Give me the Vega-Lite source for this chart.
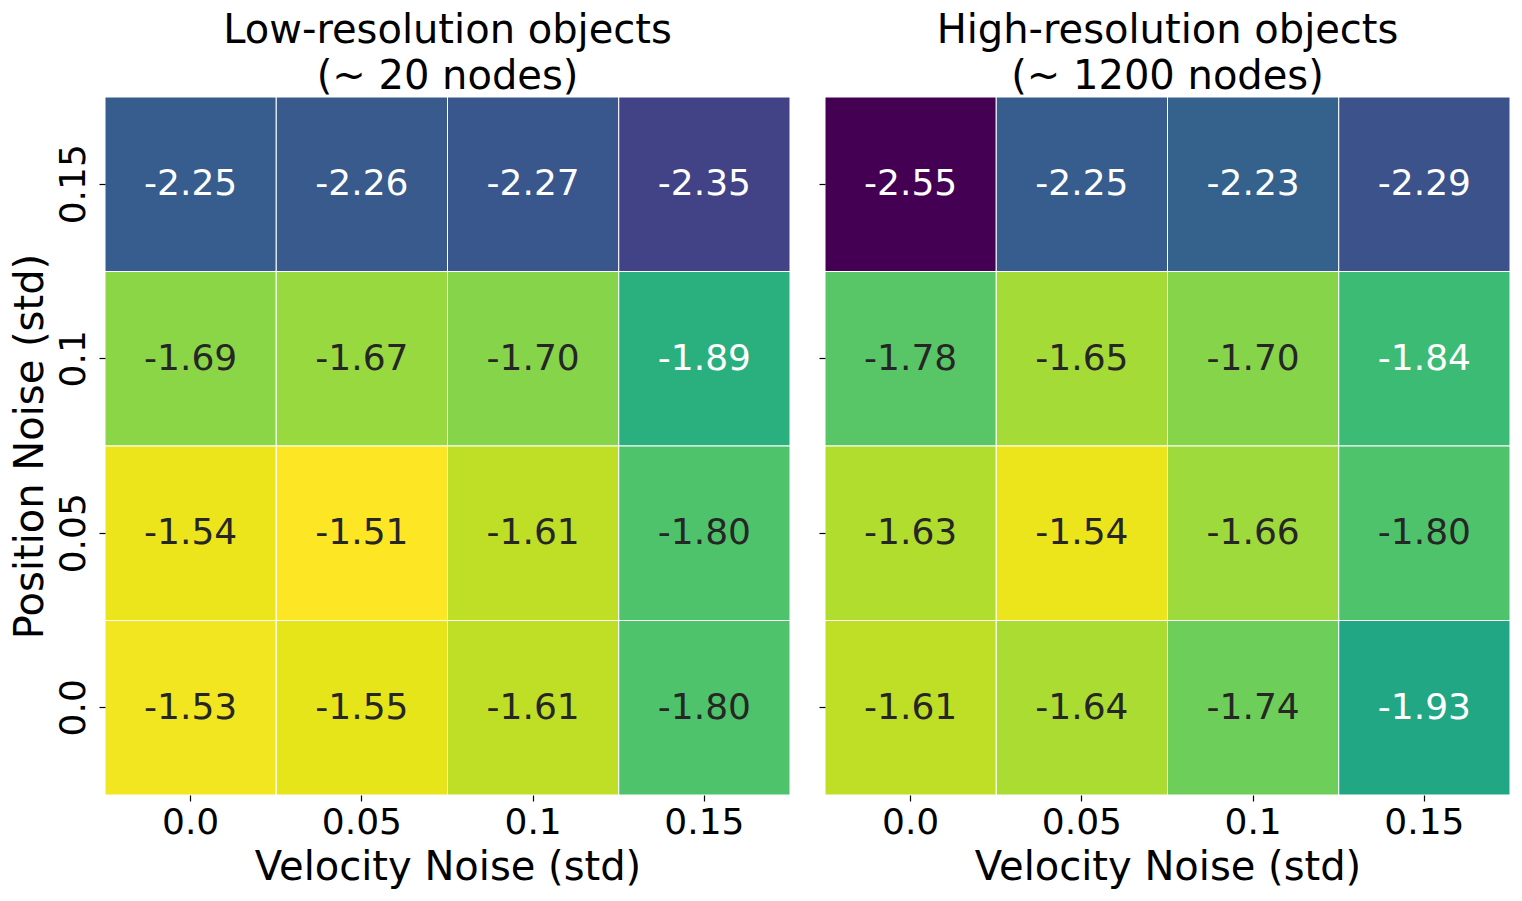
{
  "$schema": "https://vega.github.io/schema/vega-lite/v6.json",
  "padding": {"left": 10, "top": 10, "right": 10, "bottom": 10},
  "data": {"values": [
    {"panel": "low", "pos": "0.15", "vel": "0.0", "v": -2.25},
    {"panel": "low", "pos": "0.15", "vel": "0.05", "v": -2.26},
    {"panel": "low", "pos": "0.15", "vel": "0.1", "v": -2.27},
    {"panel": "low", "pos": "0.15", "vel": "0.15", "v": -2.35},
    {"panel": "low", "pos": "0.1", "vel": "0.0", "v": -1.69},
    {"panel": "low", "pos": "0.1", "vel": "0.05", "v": -1.67},
    {"panel": "low", "pos": "0.1", "vel": "0.1", "v": -1.70},
    {"panel": "low", "pos": "0.1", "vel": "0.15", "v": -1.89},
    {"panel": "low", "pos": "0.05", "vel": "0.0", "v": -1.54},
    {"panel": "low", "pos": "0.05", "vel": "0.05", "v": -1.51},
    {"panel": "low", "pos": "0.05", "vel": "0.1", "v": -1.61},
    {"panel": "low", "pos": "0.05", "vel": "0.15", "v": -1.80},
    {"panel": "low", "pos": "0.0", "vel": "0.0", "v": -1.53},
    {"panel": "low", "pos": "0.0", "vel": "0.05", "v": -1.55},
    {"panel": "low", "pos": "0.0", "vel": "0.1", "v": -1.61},
    {"panel": "low", "pos": "0.0", "vel": "0.15", "v": -1.80},
    {"panel": "high", "pos": "0.15", "vel": "0.0", "v": -2.55},
    {"panel": "high", "pos": "0.15", "vel": "0.05", "v": -2.25},
    {"panel": "high", "pos": "0.15", "vel": "0.1", "v": -2.23},
    {"panel": "high", "pos": "0.15", "vel": "0.15", "v": -2.29},
    {"panel": "high", "pos": "0.1", "vel": "0.0", "v": -1.78},
    {"panel": "high", "pos": "0.1", "vel": "0.05", "v": -1.65},
    {"panel": "high", "pos": "0.1", "vel": "0.1", "v": -1.70},
    {"panel": "high", "pos": "0.1", "vel": "0.15", "v": -1.84},
    {"panel": "high", "pos": "0.05", "vel": "0.0", "v": -1.63},
    {"panel": "high", "pos": "0.05", "vel": "0.05", "v": -1.54},
    {"panel": "high", "pos": "0.05", "vel": "0.1", "v": -1.66},
    {"panel": "high", "pos": "0.05", "vel": "0.15", "v": -1.80},
    {"panel": "high", "pos": "0.0", "vel": "0.0", "v": -1.61},
    {"panel": "high", "pos": "0.0", "vel": "0.05", "v": -1.64},
    {"panel": "high", "pos": "0.0", "vel": "0.1", "v": -1.74},
    {"panel": "high", "pos": "0.0", "vel": "0.15", "v": -1.93}
  ]},
  "config": {
    "font": "DejaVu Sans",
    "locale": {"number": {"decimal": ".", "thousands": ",", "grouping": [3], "currency": ["$", ""], "minus": "-"}},
    "view": {"stroke": null},
    "concat": {"spacing": 27},
    "axis": {
      "domain": false, "tickSize": 6, "tickColor": "#000", "tickWidth": 1.2,
      "labelFontSize": 36, "labelColor": "#000", "titleFontSize": 40,
      "titleFontWeight": "normal", "titleColor": "#000", "grid": false
    },
    "title": {"fontSize": 40, "fontWeight": "normal", "color": "#000", "lineHeight": 46}
  },
  "hconcat": [
    {
      "width": 685, "height": 698,
      "title": {"text": ["Low-resolution objects", "(~ 20 nodes)"], "offset": 0},
      "transform": [{"filter": "datum.panel === 'low'"}],
      "encoding": {
        "x": {"field": "vel", "type": "ordinal", "sort": ["0.0", "0.05", "0.1", "0.15"],
              "scale": {"paddingInner": 0, "paddingOuter": 0},
              "axis": {"title": "Velocity Noise (std)", "labelAngle": 0, "labelPadding": 4, "titlePadding": 7}},
        "y": {"field": "pos", "type": "ordinal", "sort": ["0.15", "0.1", "0.05", "0.0"],
              "scale": {"paddingInner": 0, "paddingOuter": 0},
              "axis": {"title": "Position Noise (std)", "labelAngle": 270, "labelPadding": 7, "titlePadding": 5}}
      },
      "layer": [
        {"mark": {"type": "rect", "stroke": "#fff", "strokeWidth": 1},
         "encoding": {"color": {"field": "v", "type": "quantitative",
           "scale": {"scheme": "viridis", "domain": [-2.55, -1.51]}, "legend": null}}},
        {"mark": {"type": "text", "fontSize": 36},
         "encoding": {"text": {"field": "v", "type": "quantitative", "format": ".2f"},
           "color": {"condition": {"test": "datum.v < -1.82", "value": "#ffffff"}, "value": "#262626"}}}
      ]
    },
    {
      "width": 685, "height": 698,
      "title": {"text": ["High-resolution objects", "(~ 1200 nodes)"], "offset": 0},
      "transform": [{"filter": "datum.panel === 'high'"}],
      "encoding": {
        "x": {"field": "vel", "type": "ordinal", "sort": ["0.0", "0.05", "0.1", "0.15"],
              "scale": {"paddingInner": 0, "paddingOuter": 0},
              "axis": {"title": "Velocity Noise (std)", "labelAngle": 0, "labelPadding": 4, "titlePadding": 7}},
        "y": {"field": "pos", "type": "ordinal", "sort": ["0.15", "0.1", "0.05", "0.0"],
              "scale": {"paddingInner": 0, "paddingOuter": 0},
              "axis": {"title": null, "labels": false}}
      },
      "layer": [
        {"mark": {"type": "rect", "stroke": "#fff", "strokeWidth": 1},
         "encoding": {"color": {"field": "v", "type": "quantitative",
           "scale": {"scheme": "viridis", "domain": [-2.55, -1.51]}, "legend": null}}},
        {"mark": {"type": "text", "fontSize": 36},
         "encoding": {"text": {"field": "v", "type": "quantitative", "format": ".2f"},
           "color": {"condition": {"test": "datum.v < -1.82", "value": "#ffffff"}, "value": "#262626"}}}
      ]
    }
  ]
}
